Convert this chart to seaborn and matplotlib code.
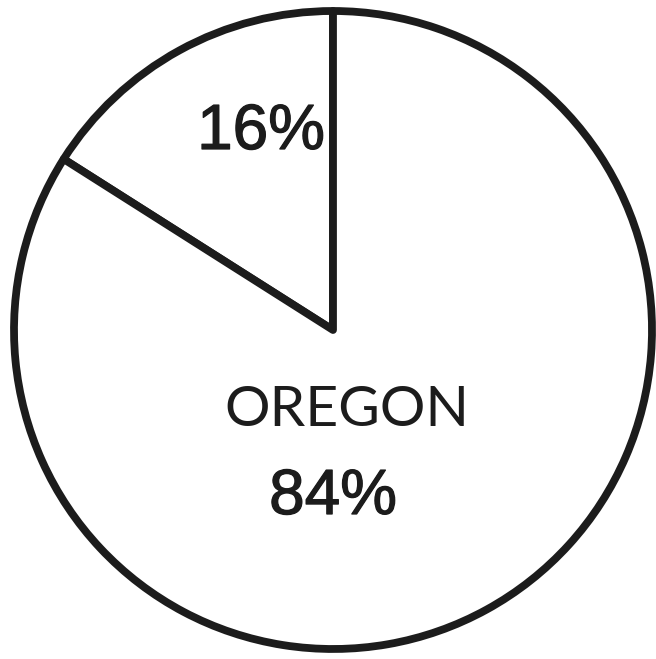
import matplotlib
matplotlib.use("Agg")
import matplotlib.pyplot as plt
import matplotlib.patheffects as pe
import seaborn as sns

# Share of the total by origin
labels = ["Other", "OREGON"]
shares = [16, 84]

sns.set_style("white")
plt.rcParams["font.family"] = ["Liberation Sans", "DejaVu Sans"]

W, H = 656, 659
fig = plt.figure(figsize=(W / 100, H / 100), dpi=100)
ax = fig.add_axes([0, 0, 1, 1])

# circle centre and radius in pixels
cx, cy, r = 333, 330, 319
ax.pie(
    shares,
    startangle=90,
    counterclock=True,
    radius=1.0,
    colors=["white", "white"],
    wedgeprops=dict(edgecolor="#1c1c1c", linewidth=5.6, joinstyle="round"),
)
ax.set_xlim(-cx / r, (W - cx) / r)
ax.set_ylim(-(H - cy) / r, cy / r)
ax.set_aspect("equal")
ax.axis("off")

def px(x, y):
    return (x - cx) / r, (cy - y) / r

ink = "#1c1c1c"
heavy = [pe.withStroke(linewidth=0.9, foreground=ink)]

ax.text(*px(261, 132), f"{shares[0]}%", ha="center", va="center",
        fontsize=46, color=ink, fontfamily="Liberation Sans", path_effects=heavy)
ax.text(*px(347, 410), labels[1], ha="center", va="center",
        fontsize=41, color=ink, fontfamily="Lato", fontweight="normal")
ax.text(*px(333, 497), f"{shares[1]}%", ha="center", va="center",
        fontsize=46, color=ink, fontfamily="Liberation Sans", path_effects=heavy)

fig.savefig("out.png", dpi=100, facecolor="white")
